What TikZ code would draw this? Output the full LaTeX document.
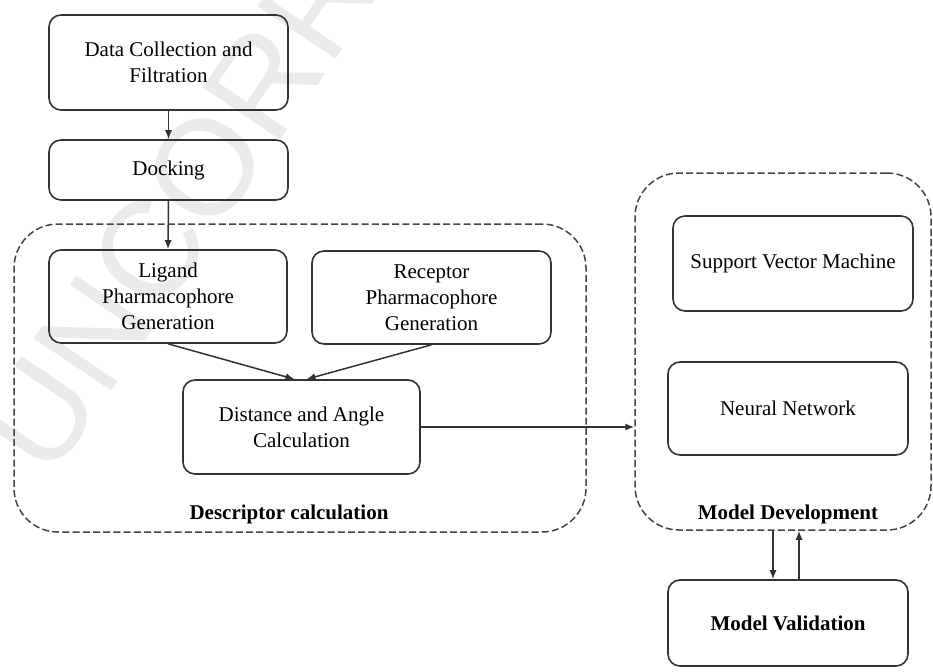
\documentclass[tikz,border=0pt]{standalone}
\usepackage{fontspec}
\setmainfont{Liberation Serif}
\newfontfamily\wmfont{Liberation Sans}
\usetikzlibrary{arrows.meta,calc}

\definecolor{edge}{HTML}{333333}
\definecolor{groupedge}{HTML}{444444}

\tikzset{
  box/.style={draw=edge, line width=0.8pt, rounded corners=6pt, align=center,
    inner sep=0pt, font=\fontsize{10.5}{13}\selectfont},
  group/.style={draw=groupedge, line width=0.75pt, dashed,
    dash pattern=on 3.5pt off 1.6pt, rounded corners=22pt, inner sep=0pt},
  grouplabel/.style={font=\fontsize{10.5}{13}\selectfont\bfseries, inner sep=0pt},
  arr/.style={draw=edge, line width=0.75pt, -{Latex[length=4.5pt,width=3.6pt]}},
  watermark/.style={text=black!8, font=\wmfont\fontsize{68}{68}\selectfont,
    inner sep=0pt, rotate=56, anchor=base west}
}

\begin{document}
\begin{tikzpicture}[x=0.5pt, y=-0.5pt]
  \useasboundingbox (0,0) rectangle (933,671);

  % faint proof stamp behind the chart
  \begin{scope}
    \clip (0,0) rectangle (933,671);
    \node[watermark] (stamp) at (50,482) {UNCORRECTED PROOF};
  \end{scope}

  % descriptor stage
  \node[group, minimum width=286pt, minimum height=154pt] (desc) at (300,378) {};
  \node[grouplabel] (desclabel) at (289,514) {Descriptor calculation};

  % model stage
  \node[group, minimum width=148pt, minimum height=178.5pt] (md) at (783,351.5) {};
  \node[grouplabel] (mdlabel) at (788,514) {Model Development};

  % process boxes
  \node[box, minimum width=119.5pt, minimum height=47.5pt] (dc) at (168.5,62.5)
    {Data Collection and\\Filtration};
  \node[box, minimum width=119.5pt, minimum height=30pt] (dock) at (168.5,170)
    {Docking};
  \node[box, minimum width=119pt, minimum height=46.5pt] (lig) at (168,296.5)
    {Ligand\\Pharmacophore\\Generation};
  \node[box, minimum width=119.5pt, minimum height=46.5pt] (rec) at (431.5,297.5)
    {Receptor\\Pharmacophore\\Generation};
  \node[box, minimum width=118.5pt, minimum height=47pt] (dist) at (301.5,427)
    {Distance and Angle\\Calculation};
  \node[box, minimum width=120pt, minimum height=47.5pt] (svm) at (793,263.5)
    {Support Vector Machine};
  \node[box, minimum width=120pt, minimum height=46.5pt] (nn) at (788,408.5)
    {Neural Network};
  \node[box, minimum width=120pt, minimum height=43pt, font=\fontsize{10.5}{13}\selectfont\bfseries]
    (mv) at (788,623) {Model Validation};

  % end points of the two validation links
  \coordinate (downtop) at ($(md.south)+(-10,0)$);
  \coordinate (downbot) at ($(mv.north)+(-15,0)$);
  \coordinate (upbot)   at ($(mv.north)+(11,0)$);
  \coordinate (uptop)   at ($(md.south)+(16,0)$);

  % connectors
  \draw[arr] (dc.south) -- (dock.north);
  \draw[arr] (dock.south) -- (lig.north);
  \draw[arr] (lig.south) -- ($(dist.north)+(-7,0)$);
  \draw[arr] (rec.south) -- ($(dist.north)+(5,0)$);
  \draw[arr] (dist.east) -- (dist.east -| md.west);
  \draw[arr] (downtop) -- (downbot);
  \draw[arr] (upbot) -- (uptop);
\end{tikzpicture}
\end{document}
